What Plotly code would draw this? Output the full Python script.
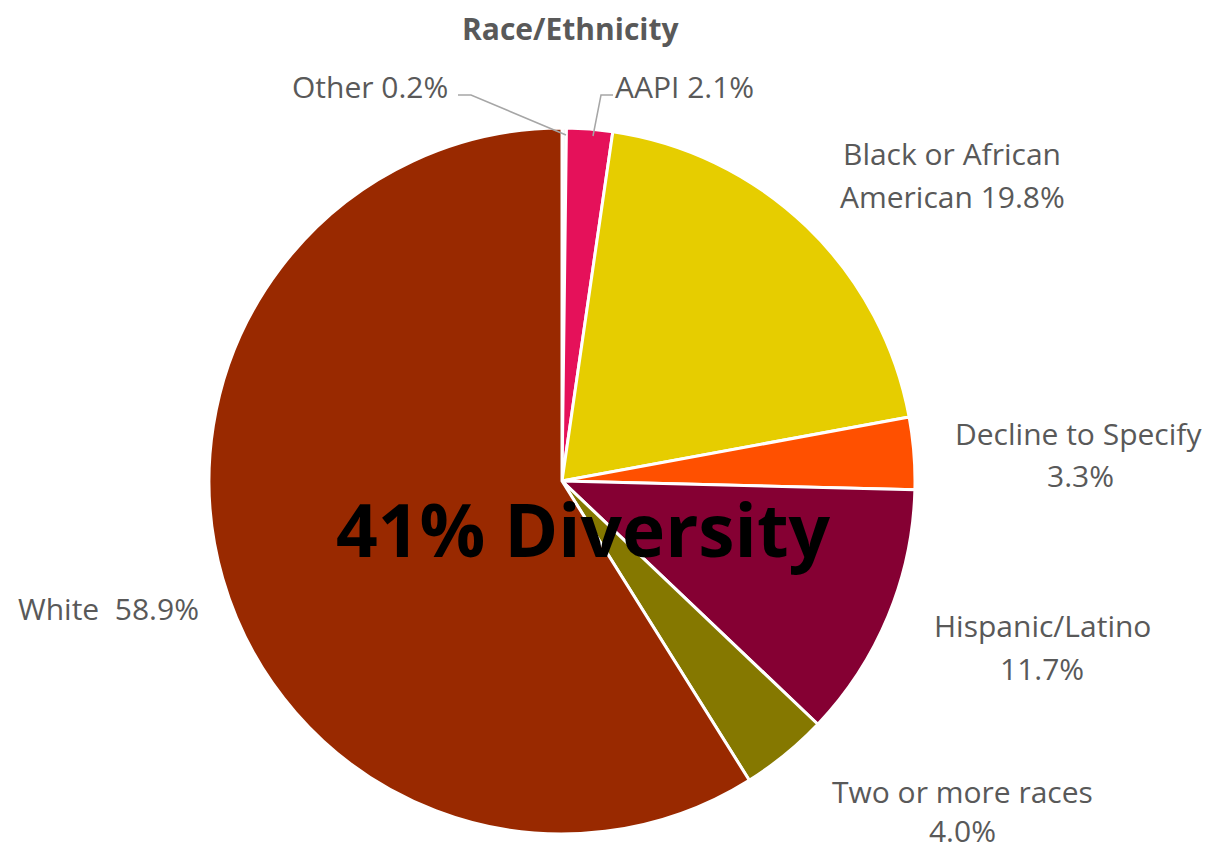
import plotly.graph_objects as go

categories = ["Other", "AAPI", "Black or African American", "Decline to Specify",
              "Hispanic/Latino", "Two or more races", "White"]
values = [0.2, 2.1, 19.8, 3.3, 11.7, 4.0, 58.9]
colors = ["#F4F4F4", "#E5115A", "#E6CD00", "#FF5000", "#850033", "#857800", "#992900"]

W, H = 1217, 850
FONT = "Open Sans"
GREY = "#595959"

def px(x):
    return x / W

def py(y):
    return 1 - y / H

cx, cy, r = 554, 473, 353

fig = go.Figure(go.Pie(
    labels=categories, values=values, sort=False, direction="clockwise", rotation=0,
    marker=dict(colors=colors, line=dict(color="white", width=3)),
    textinfo="none", hoverinfo="label+percent", showlegend=False,
    domain=dict(x=[px(cx - r), px(cx + r)], y=[py(cy + r), py(cy - r)]),
))

# label texts (text, x center, y center)
label_lines = [
    ("Other 0.2%", 362, 78),
    ("AAPI 2.1%", 676, 78),
    ("Black or African", 944, 145),
    ("American 19.8%", 944, 188),
    ("Decline to Specify", 1070, 425),
    ("3.3%", 1072, 468),
    ("Hispanic/Latino", 1034, 617),
    ("11.7%", 1034, 660),
    ("Two or more races<br>4.0%", 954, 803),
    ("White  58.9%", 100, 600),
]

annotations = []
for t, x, y in label_lines:
    annotations.append(dict(text=t, x=px(x), y=py(y), xref="paper", yref="paper",
                            xanchor="center", yanchor="middle", showarrow=False,
                            borderpad=0,
                            font=dict(family=FONT, size=30, color=GREY)))

annotations.append(dict(text="<b>Race/Ethnicity</b>", x=px(562), y=py(20), xref="paper", yref="paper",
                        xanchor="center", yanchor="middle", showarrow=False,
                        font=dict(family=FONT, size=30, color=GREY)))
annotations.append(dict(text="<b>41% Diversity</b>", x=px(575), y=py(520), xref="paper", yref="paper",
                        xanchor="center", yanchor="middle", showarrow=False,
                        font=dict(family=FONT, size=73, color="black")))

def path(points):
    s = "M " + " L ".join(f"{px(a)},{py(b)}" for a, b in points)
    return dict(type="path", path=s, xref="paper", yref="paper",
                line=dict(color="#A6A6A6", width=1.5))

shapes = [
    path([(450, 87), (463, 87), (558, 127)]),
    path([(605, 87), (593, 87), (585, 128)]),
]

fig.update_layout(
    width=W, height=H, margin=dict(l=0, r=0, t=0, b=0),
    paper_bgcolor="white", plot_bgcolor="white",
    annotations=annotations, shapes=shapes,
)

fig.write_html("out.html")
